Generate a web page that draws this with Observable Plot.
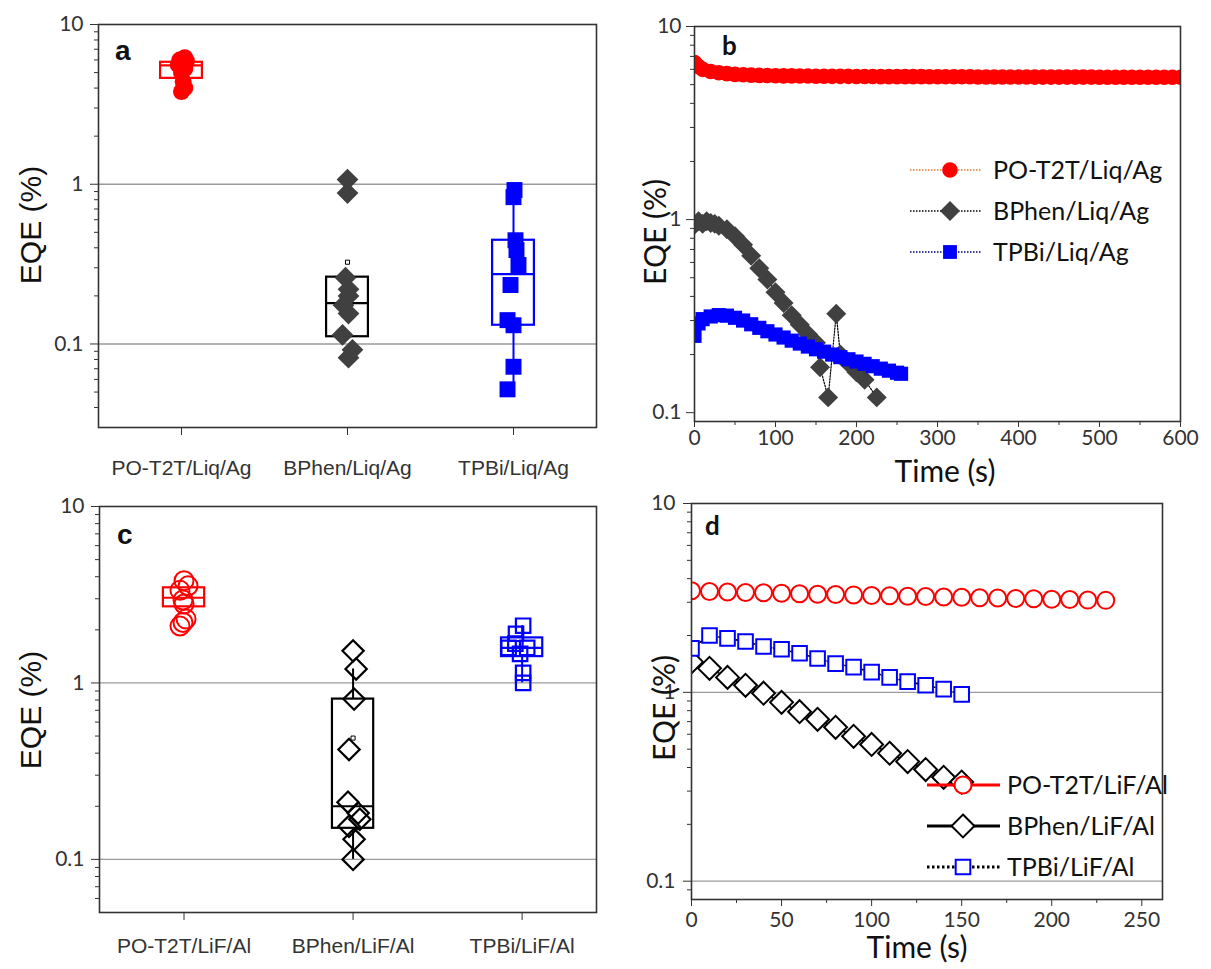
<!DOCTYPE html>
<html><head><meta charset="utf-8">
<script src="https://cdn.jsdelivr.net/npm/d3@7"></script>
<script src="https://cdn.jsdelivr.net/npm/@observablehq/plot@0.6"></script>
<style>
body{margin:0;background:#fff;}
#root{position:relative;width:1211px;height:969px;overflow:hidden;background:#fff;}
#root svg{position:absolute;overflow:visible;}
</style></head><body><div id="root"></div><script>
// ---------------- data ----------------
const catsA = ["PO-T2T/Liq/Ag", "BPhen/Liq/Ag", "TPBi/Liq/Ag"];
const catsC = ["PO-T2T/LiF/Al", "BPhen/LiF/Al", "TPBi/LiF/Al"];

// panel a : EQE (%) of individual devices, x offset within category
const aPOT2T = [6.2, 6.0, 5.9, 5.75, 5.6, 5.45, 5.3, 5.0, 4.4, 4.0, 3.8];
const aPOT2TJit = [0.02, -0.01, 0.03, 0.0, -0.02, 0.01, 0.02, 0.0, 0.01, 0.02, 0.0];
const aBPhen = [1.07, 0.88, 0.26, 0.22, 0.20, 0.175, 0.155, 0.114, 0.092, 0.082];
const aBPhenJit = [0, 0, -0.012, 0.006, 0.006, -0.024, 0.006, -0.03, 0.03, 0.006];
const aTPBi = [0.92, 0.83, 0.446, 0.387, 0.312, 0.234, 0.141, 0.131, 0.072, 0.052];
const aTPBiJit = [0.006, 0, 0.012, 0.018, 0.03, -0.018, -0.036, 0, 0, -0.036];
const aQ1 = [4.6, 0.111, 0.131];
const aMedian = [5.55, 0.18, 0.274];
const aQ3 = [5.8, 0.262, 0.446];
const aWhiskerLo = [NaN, NaN, 0.052];
const aWhiskerHi = [NaN, NaN, 0.92];
const aMean = [NaN, 0.325, NaN];

// panel c
const cPOT2T = [3.8, 3.55, 3.35, 2.95, 2.8, 2.3, 2.2, 2.1];
const cPOT2TJit = [0, 0.024, -0.024, -0.006, 0, 0.012, -0.006, -0.024];
const cBPhen = [1.52, 1.2, 0.81, 0.42, 0.211, 0.183, 0.169, 0.154, 0.13, 0.1];
const cBPhenJit = [0, 0.018, 0.006, -0.024, -0.03, 0.03, 0.04, -0.024, 0.006, 0];
const cTPBi = [2.11, 1.9, 1.67, 1.58, 1.58, 1.46, 1.14, 1.0];
const cTPBiJit = [0.006, -0.036, -0.04, 0.03, -0.08, -0.012, 0.006, 0.006];
const cQ1 = [2.7, 0.15, 1.41];
const cMedian = [3.04, 0.2, 1.58];
const cQ3 = [3.46, 0.81, 1.8];
const cWhiskerLo = [NaN, 0.1, 1.0];
const cWhiskerHi = [NaN, 1.2, 2.11];
const cMean = [NaN, 0.487, NaN];

// panel b : EQE (%) vs time (s)
const bPOT2TTime = [0,5,10,20,30,40,50,60,70,80,90,100,110,120,130,140,150,160,170,180,190,200,210,220,230,240,250,260,270,280,290,300,310,320,330,340,350,360,370,380,390,400,410,420,430,440,450,460,470,480,490,500,510,520,530,540,550,560,570,580,590,600];
const bPOT2T = [6.5,6.2,6.0,5.85,5.76,5.7,5.65,5.62,5.6,5.58,5.57,5.56,5.55,5.55,5.54,5.54,5.53,5.53,5.52,5.52,5.52,5.51,5.51,5.51,5.5,5.5,5.5,5.5,5.5,5.5,5.49,5.49,5.49,5.49,5.49,5.49,5.48,5.48,5.48,5.48,5.48,5.48,5.48,5.47,5.47,5.47,5.47,5.47,5.47,5.47,5.47,5.46,5.46,5.46,5.46,5.46,5.46,5.46,5.46,5.46,5.46,5.46];
const bBPhenTime = [0,5,10,15,20,25,30,40,50,60,70,80,90,100,110,120,130,140,150,155,165,175,180,190,200,210,225];
const bBPhen = [0.94,0.98,0.95,0.98,0.96,0.95,0.93,0.89,0.82,0.74,0.65,0.56,0.49,0.42,0.37,0.32,0.285,0.255,0.23,0.172,0.12,0.325,0.2,0.18,0.162,0.148,0.12];
const bTPBiTime = [0,5,10,20,30,40,50,60,70,80,90,100,110,120,130,140,150,160,170,180,190,200,210,220,230,240,250,255];
const bTPBi = [0.25,0.29,0.305,0.315,0.32,0.318,0.31,0.30,0.287,0.275,0.264,0.254,0.245,0.236,0.228,0.22,0.213,0.207,0.2,0.194,0.189,0.184,0.179,0.174,0.169,0.165,0.161,0.159];

// panel d
const dPOT2TTime = [0,10,20,30,40,50,60,70,80,90,100,110,120,130,140,150,160,170,180,190,200,210,220,230];
const dPOT2T = [3.45,3.42,3.40,3.38,3.37,3.35,3.33,3.31,3.30,3.28,3.26,3.25,3.23,3.22,3.20,3.19,3.17,3.16,3.14,3.13,3.11,3.10,3.08,3.07];
const dBPhenTime = [0,10,20,30,40,50,60,70,80,90,100,110,120,130,140,150];
const dBPhen = [1.45,1.34,1.2,1.09,0.99,0.885,0.79,0.72,0.653,0.585,0.53,0.476,0.43,0.39,0.355,0.335];
const dTPBiTime = [0,10,20,30,40,50,60,70,80,90,100,110,120,130,140,150];
const dTPBi = [1.71,2.0,1.93,1.86,1.75,1.69,1.61,1.51,1.42,1.36,1.28,1.2,1.14,1.09,1.04,0.975];

// axis ticks
const majorY = [0.1, 1, 10];
const minorY = [0.03,0.04,0.05,0.06,0.07,0.08,0.09,0.2,0.3,0.4,0.5,0.6,0.7,0.8,0.9,2,3,4,5,6,7,8,9];
const gridY = [0.1, 1];
const bTicks = [0,100,200,300,400,500,600];
const bMinor = [50,150,250,350,450,550];
const dTicks = [0,50,100,150,200,250];
const dMinor = [25,75,125,175,225];

// ---------------- helpers ----------------
const root = document.getElementById("root");
const RED = "#ff0000", BLUE = "#0000ff", DARK = "#404040", AX = "#333333";
const GILL = "Lato, 'DejaVu Sans', sans-serif";
const ARIAL = "'Liberation Sans', Arial, sans-serif";
function place(node, left, top) { node.style.left = left + "px"; node.style.top = top + "px"; root.appendChild(node); }
const pts = (vals, jit, idx) => vals.map((v, k) => ({x: idx + jit[k], v}));
const series = (ts, vs) => ts.map((t, k) => ({t, v: vs[k]}));

function catPanel(o) {
  const stats = o.cats.map((c, i) => ({i, q1: o.q1[i], med: o.med[i], q3: o.q3[i], lo: o.lo[i], hi: o.hi[i], mean: o.mean[i], col: o.colors[i]}));
  const hw = o.hw;
  const [y0] = o.yDomain;
  return Plot.plot({
    width: o.width, height: o.height,
    marginLeft: o.ml, marginRight: o.mr, marginTop: o.mt, marginBottom: o.mb,
    x: {domain: o.xDomain},
    y: {type: "log", domain: o.yDomain},
    color: {type: "identity"},
    style: {fontFamily: GILL, fontSize: "21px", color: "#222", background: "transparent"},
    marks: [
      Plot.ruleY(gridY, {stroke: "#9a9a9a", strokeWidth: 1.3}),
      Plot.ruleX(stats.filter(d => isFinite(d.hi)), {x: "i", y1: "q3", y2: "hi", stroke: "col", strokeWidth: 2}),
      Plot.ruleX(stats.filter(d => isFinite(d.lo)), {x: "i", y1: "q1", y2: "lo", stroke: "col", strokeWidth: 2}),
      Plot.rect(stats, {x1: d => d.i - hw, x2: d => d.i + hw, y1: "q1", y2: "q3", fill: "none", stroke: "col", strokeWidth: 2.2}),
      Plot.ruleY(stats, {x1: d => d.i - hw, x2: d => d.i + hw, y: "med", stroke: "col", strokeWidth: 2.2}),
      ...o.groups.map(g => Plot.dot(g.data, {x: "x", y: "v", ...g.style})),
      Plot.dot(stats.filter(d => isFinite(d.mean)), {x: "i", y: "mean", symbol: "square2", r: 2.6, fill: "white", stroke: "black", strokeWidth: 1}),
      Plot.frame({stroke: AX, strokeWidth: 1.6}),
      Plot.axisY(minorY.filter(v => v > y0), {tickSize: 4, tickFormat: () => "", color: AX, label: null}),
      Plot.axisY(majorY, {tickSize: 8, tickPadding: 7, tickFormat: d => String(d), color: AX, fontSize: 21, fontFamily: GILL, label: null}),
      Plot.axisX([0, 1, 2], {tickSize: 8, tickPadding: o.xPad, tickFormat: i => o.cats[i], color: AX, fontSize: 21, fontFamily: ARIAL, label: null})
    ]
  });
}

// ---------------- panel a ----------------
const plotA = catPanel({
  cats: catsA, width: 605, height: 490, ml: 98, mr: 9, mt: 24, mb: 63,
  xDomain: [-0.5, 2.5], yDomain: [0.03, 10], hw: 0.126, xPad: 25,
  q1: aQ1, med: aMedian, q3: aQ3, lo: aWhiskerLo, hi: aWhiskerHi, mean: aMean,
  colors: [RED, "#000000", BLUE],
  groups: [
    {data: pts(aPOT2T, aPOT2TJit, 0), style: {symbol: "circle", r: 8.5, fill: RED}},
    {data: pts(aBPhen, aBPhenJit, 1), style: {symbol: "diamond2", r: 9.8, fill: DARK}},
    {data: pts(aTPBi, aTPBiJit, 2), style: {symbol: "square", r: 9, fill: BLUE}}
  ]
});
place(plotA, 0, 0);

// ---------------- panel c ----------------
const plotC = catPanel({
  cats: catsC, width: 605, height: 479, ml: 99, mr: 9, mt: 16, mb: 57,
  xDomain: [-0.5, 2.44], yDomain: [0.05, 10], hw: 0.122, xPad: 18,
  q1: cQ1, med: cMedian, q3: cQ3, lo: cWhiskerLo, hi: cWhiskerHi, mean: cMean,
  colors: [RED, "#000000", BLUE],
  groups: [
    {data: pts(cPOT2T, cPOT2TJit, 0), style: {symbol: "circle", r: 9.5, fill: "none", stroke: RED, strokeWidth: 2}},
    {data: pts(cBPhen, cBPhenJit, 1), style: {symbol: "diamond2", r: 9.6, fill: "none", stroke: "#000", strokeWidth: 2.2}},
    {data: pts(cTPBi, cTPBiJit, 2), style: {symbol: "square2", r: 9.2, fill: "none", stroke: BLUE, strokeWidth: 2.2}}
  ]
});
place(plotC, 0, 490);

// ---------------- panel b ----------------
const bR = series(bPOT2TTime, bPOT2T), bK = series(bBPhenTime, bBPhen), bB = series(bTPBiTime, bTPBi);
const plotB = Plot.plot({
  width: 606, height: 490, marginLeft: 89, marginRight: 31, marginTop: 26, marginBottom: 69,
  x: {domain: [0, 600]},
  y: {type: "log", domain: [0.09, 10]},
  style: {fontFamily: GILL, fontSize: "21px", color: "#222", background: "transparent"},
  marks: [
    Plot.line(bR, {x: "t", y: "v", stroke: "#e8782a", strokeWidth: 1.2, strokeDasharray: "1.5,1.5"}),
    Plot.dot(bR, {x: "t", y: "v", r: 7.8, fill: RED, clip: true}),
    Plot.line(bK, {x: "t", y: "v", stroke: "#000", strokeWidth: 1.2, strokeDasharray: "1.5,1.5"}),
    Plot.dot(bK, {x: "t", y: "v", symbol: "diamond2", r: 9, fill: DARK, clip: true}),
    Plot.line(bB, {x: "t", y: "v", stroke: "#000080", strokeWidth: 1.2, strokeDasharray: "1.5,1.5"}),
    Plot.dot(bB, {x: "t", y: "v", symbol: "square", r: 8, fill: BLUE, clip: true}),
    Plot.frame({stroke: AX, strokeWidth: 1.6}),
    Plot.axisY(minorY.filter(v => v > 0.09), {tickSize: 4, tickFormat: () => "", color: AX, label: null}),
    Plot.axisY(majorY, {tickSize: 8, tickPadding: 5, tickFormat: d => String(d), color: AX, fontSize: 21, label: null}),
    Plot.axisX(bMinor, {tickSize: 4, tickFormat: () => "", color: AX, label: null}),
    Plot.axisX(bTicks, {tickSize: 6, tickPadding: 3, color: AX, fontSize: 21, label: null})
  ]
});
place(plotB, 605, 0);

// ---------------- panel d ----------------
const dR = series(dPOT2TTime, dPOT2T), dK = series(dBPhenTime, dBPhen), dB = series(dTPBiTime, dTPBi);
const plotD = Plot.plot({
  width: 606, height: 479, marginLeft: 86, marginRight: 49, marginTop: 13, marginBottom: 70,
  x: {domain: [0, 261.5]},
  y: {type: "log", domain: [0.08, 10]},
  style: {fontFamily: GILL, fontSize: "21px", color: "#222", background: "transparent"},
  marks: [
    Plot.ruleY(gridY, {stroke: "#9a9a9a", strokeWidth: 1.3}),
    Plot.line(dR, {x: "t", y: "v", stroke: RED, strokeWidth: 1.6, clip: true}),
    Plot.dot(dR, {x: "t", y: "v", r: 8.5, fill: "white", stroke: RED, strokeWidth: 2, clip: true}),
    Plot.line(dK, {x: "t", y: "v", stroke: "#000", strokeWidth: 1.6, clip: true}),
    Plot.dot(dK, {x: "t", y: "v", symbol: "diamond2", r: 10.3, fill: "white", stroke: "#000", strokeWidth: 2, clip: true}),
    Plot.line(dB, {x: "t", y: "v", stroke: "#000", strokeWidth: 1.6, strokeDasharray: "1.5,2", clip: true}),
    Plot.dot(dB, {x: "t", y: "v", symbol: "square2", r: 9.3, fill: "white", stroke: BLUE, strokeWidth: 2, clip: true}),
    Plot.frame({stroke: AX, strokeWidth: 1.6}),
    Plot.axisY(minorY.filter(v => v > 0.08), {tickSize: 4, tickFormat: () => "", color: AX, label: null}),
    Plot.axisY(majorY, {tickSize: 8, tickPadding: 8, tickFormat: d => String(d), color: AX, fontSize: 21, label: null}),
    Plot.axisX(dMinor, {tickSize: 4, tickFormat: () => "", color: AX, label: null}),
    Plot.axisX(dTicks, {tickSize: 7, tickPadding: 6, color: AX, fontSize: 21, label: null})
  ]
});
place(plotD, 605, 490);

// ---------------- overlay: titles, panel letters, legends ----------------
const ov = d3.select(root).append("svg").attr("width", 1211).attr("height", 969).style("left", "0px").style("top", "0px");
function txt(x, y, s, font, size, opts = {}) {
  const t = ov.append("text").attr("x", x).attr("y", y).text(s)
    .attr("font-family", font).attr("font-size", size).attr("fill", opts.fill || "#111");
  if (opts.weight) t.attr("font-weight", opts.weight);
  if (opts.anchor) t.attr("text-anchor", opts.anchor);
  if (opts.rotate) t.attr("transform", `rotate(-90 ${x} ${y})`).attr("dy", "0.36em").attr("text-anchor", "middle");
  return t;
}
txt(115, 60, "a", ARIAL, 28, {weight: "bold"});
txt(722, 55, "b", GILL, 26, {weight: "bold"});
txt(117, 544, "c", ARIAL, 28, {weight: "bold"});
txt(705, 535, "d", GILL, 26, {weight: "bold"});
txt(30, 225, "EQE (%)", ARIAL, 30, {rotate: true});
txt(30, 710, "EQE (%)", ARIAL, 30, {rotate: true});
txt(655, 232, "EQE (%)", GILL, 30, {rotate: true});
txt(664, 708, "EQE (%)", GILL, 30, {rotate: true});
txt(945, 482, "Time (s)", GILL, 30, {anchor: "middle"});
txt(917, 958, "Time (s)", GILL, 30, {anchor: "middle"});

function legend(items, x0, x1, mx, tx, ys) {
  items.forEach((it, k) => {
    const y = ys[k];
    ov.append("line").attr("x1", x0).attr("x2", x1).attr("y1", y).attr("y2", y)
      .attr("stroke", it.line).attr("stroke-width", it.lw).attr("stroke-dasharray", it.dash || null);
    ov.append("path").attr("d", d3.symbol().type(it.sym).size(Math.PI * it.r * it.r)())
      .attr("transform", `translate(${mx},${y})`).attr("fill", it.fill).attr("stroke", it.stroke || "none").attr("stroke-width", it.sw || 0);
    txt(tx, y + 9, it.label, GILL, 25);
  });
}
legend([
  {label: "PO-T2T/Liq/Ag", line: "#e8782a", lw: 1.3, dash: "1.5,1.5", sym: d3.symbolCircle, r: 7.8, fill: RED},
  {label: "BPhen/Liq/Ag", line: "#000", lw: 1.3, dash: "1.5,1.5", sym: d3.symbolDiamond2, r: 9, fill: DARK},
  {label: "TPBi/Liq/Ag", line: "#000080", lw: 1.3, dash: "1.5,1.5", sym: d3.symbolSquare, r: 7.8, fill: BLUE}
], 910, 982, 950, 993, [170, 211, 252]);
legend([
  {label: "PO-T2T/LiF/Al", line: RED, lw: 3, sym: d3.symbolCircle, r: 8.5, fill: "white", stroke: RED, sw: 2},
  {label: "BPhen/LiF/Al", line: "#000", lw: 3, sym: d3.symbolDiamond2, r: 10.3, fill: "white", stroke: "#000", sw: 2},
  {label: "TPBi/LiF/Al", line: "#000", lw: 3, dash: "2.5,2.5", sym: d3.symbolSquare2, r: 9.3, fill: "white", stroke: BLUE, sw: 2}
], 927, 1000, 963, 1007, [785, 826, 867]);
</script></body></html>
